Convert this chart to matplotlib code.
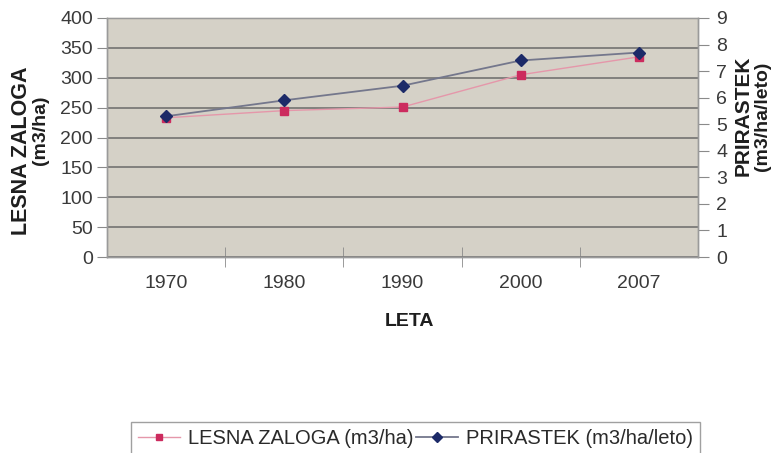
import matplotlib
matplotlib.use("Agg")
import matplotlib.pyplot as plt
import numpy as np

plt.rcParams["font.family"] = ["Liberation Sans", "DejaVu Sans"]

# data
leta = ["1970", "1980", "1990", "2000", "2007"]
lesna_zaloga = [233, 245, 251, 305, 335]        # m3/ha, left axis
prirastek = [5.3, 5.9, 6.45, 7.4, 7.7]          # m3/ha/leto, right axis

W, H = 782, 453
fig = plt.figure(figsize=(W / 100, H / 100), dpi=100)
fig.patch.set_facecolor("white")

left, right, top, bottom = 107, 698, 18, 257
ax = fig.add_axes([left / W, 1 - bottom / H, (right - left) / W, (bottom - top) / H])
ax.set_facecolor("#d5d1c7")

x = np.arange(len(leta))
ax.set_xlim(-0.5, len(leta) - 0.5)
ax.set_ylim(0, 400)
ax.set_yticks(np.arange(0, 401, 50))
ax.yaxis.grid(True, color="#6a6a6a", lw=1.1)
ax.set_axisbelow(True)

ax.set_xticks(x)
ax.set_xticklabels(leta)
ax.set_xticks(x[:-1] + 0.5, minor=True)
ax.tick_params(axis="x", which="major", length=0, pad=13, labelsize=14, colors="#3a3a3a")
ax.tick_params(axis="x", which="minor", length=14, direction="inout", color="#8a8a8a")
ax.tick_params(axis="y", length=7, pad=3, labelsize=14, colors="#3a3a3a", color="#8a8a8a")

ax.plot(x, lesna_zaloga, color="#e597aa", lw=1.0, marker="s", ms=6,
        mfc="#cc2b5e", mec="#cc2b5e", label="LESNA ZALOGA (m3/ha)")

ax2 = ax.twinx()
ax2.set_ylim(0, 9)
ax2.set_yticks(np.arange(0, 10, 1))
ax2.tick_params(axis="y", length=8, pad=5, labelsize=14, colors="#3a3a3a", color="#8a8a8a")
ax2.plot(x, prirastek, color="#74778c", lw=1.3, marker="D", ms=6,
         mfc="#1c2a68", mec="#1c2a68", label="PRIRASTEK (m3/ha/leto)")

for a in (ax, ax2):
    for side in a.spines.values():
        side.set_color("#9a9a9a")
        side.set_linewidth(1.0)
ax.spines["top"].set_color("#c8c4ba")

fig.text(22 / W, 1 - 151 / H, "LESNA ZALOGA", rotation=90, ha="center", va="center",
         fontsize=15.5, fontweight="bold", color="#1e1e1e")
fig.text(41 / W, 1 - 130 / H, "(m3/ha)", rotation=90, ha="center", va="center",
         fontsize=14, fontweight="bold", color="#1e1e1e")
fig.text(743 / W, 1 - 116 / H, "PRIRASTEK", rotation=90, ha="center", va="center",
         fontsize=15, fontweight="bold", color="#1e1e1e")
fig.text(763 / W, 1 - 116 / H, "(m3/ha/leto)", rotation=90, ha="center", va="center",
         fontsize=14, fontweight="bold", color="#1e1e1e")
fig.text(410 / W, 1 - 322 / H, "LETA", ha="center", va="center",
         fontsize=14, fontweight="bold", color="#1e1e1e")

h1, l1 = ax.get_legend_handles_labels()
h2, l2 = ax2.get_legend_handles_labels()
fig.legend(h1 + h2, l1 + l2, loc="upper left", bbox_to_anchor=(131 / W, 1 - 422 / H),
           ncol=2, frameon=True, fancybox=False, edgecolor="#a0a0a0", framealpha=1,
           fontsize=14.5, columnspacing=0.1, handlelength=2.1, handletextpad=0.4,
           borderpad=0.35, borderaxespad=0, markerscale=0.8,
           labelcolor="#2a2a2a")

fig.savefig("out.png", dpi=100)
